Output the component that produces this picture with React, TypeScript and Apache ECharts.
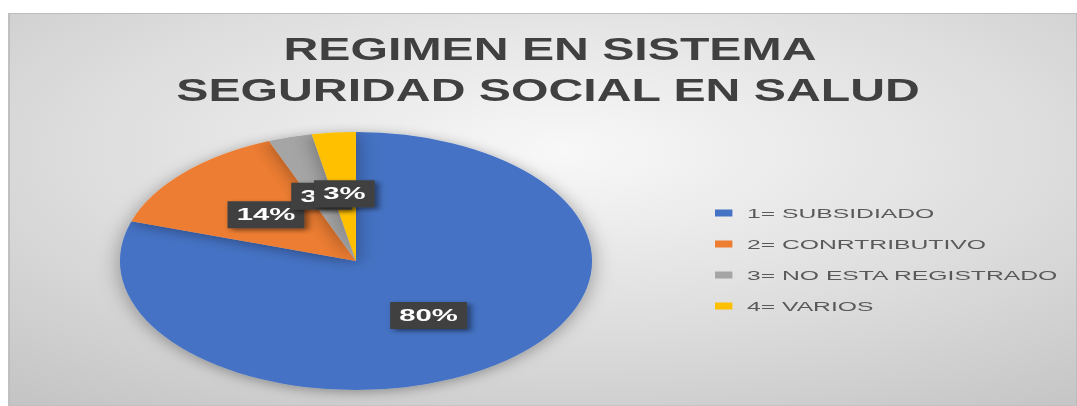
import React, { useEffect, useRef } from "react";
import * as echarts from "echarts";

const categories = ["1= SUBSIDIADO", "2= CONRTRIBUTIVO", "3= NO ESTA REGISTRADO", "4= VARIOS"];
const values = [80, 14, 3, 3];
const colors = ["#4472C4", "#ED7D31", "#A5A5A5", "#FFC000"];
const titleLines = ["REGIMEN EN SISTEMA", "SEGURIDAD SOCIAL EN SALUD"];

const SX = 1.83;
const W = 1077;
const H = 406;
const LW = W / SX;
const lx = (x: number) => x / SX;
const FONT = '"Liberation Sans", Arial, sans-serif';

export default function App() {
  const ref = useRef<HTMLDivElement>(null);
  useEffect(() => {
    const chart = echarts.init(ref.current!, null, { renderer: "svg" });
    chart.setOption({
      animation: false,
      color: colors,
      graphic: [
        {
          type: "rect",
          z: -10,
          silent: true,
          shape: { x: lx(9), y: 13.5, width: LW - lx(9), height: H - 13.5 },
          style: {
            fill: new echarts.graphic.RadialGradient(0.52, 0.35, 0.85, [
              { offset: 0, color: "#f8f8f8" },
              { offset: 0.55, color: "#dcdcdc" },
              { offset: 1, color: "#c2c2c2" },
            ]),
            stroke: "#bcbcbc",
            lineWidth: 1,
          },
        },
        {
          type: "text",
          x: lx(550),
          y: 49.5,
          scaleX: 0.85,
          silent: true,
          style: {
            text: titleLines[0],
            fill: "#404040",
            font: `bold 31px ${FONT}`,
            textAlign: "center",
            textVerticalAlign: "middle",
          },
        },
        {
          type: "text",
          x: lx(548),
          y: 90,
          scaleX: 0.85,
          silent: true,
          style: {
            text: titleLines[1],
            fill: "#404040",
            font: `bold 31px ${FONT}`,
            textAlign: "center",
            textVerticalAlign: "middle",
          },
        },
      ],
      legend: {
        orient: "vertical",
        left: lx(715),
        top: 206,
        padding: 0,
        itemWidth: 9.5,
        itemHeight: 7,
        itemGap: 17,
        icon: "rect",
        selectedMode: false,
        data: categories,
        textStyle: {
          color: "#595959",
          fontSize: 13.5,
          lineHeight: 14,
          fontFamily: FONT,
          padding: [0, 0, 0, 3],
        },
      },
      series: [
        {
          type: "pie",
          center: [lx(356), 261],
          radius: 129,
          startAngle: 90,
          clockwise: true,
          silent: true,
          avoidLabelOverlap: false,
          labelLayout: { hideOverlap: false },
          percentPrecision: 0,
          data: categories.map((name, i) => ({ name, value: values[i] })),
          itemStyle: {
            shadowBlur: 12,
            shadowColor: "rgba(0,0,0,0.35)",
            shadowOffsetY: 2,
          },
          label: {
            show: true,
            position: "inside",
            formatter: "{d}%",
            color: "#ffffff",
            fontWeight: "bold",
            fontSize: 16,
            lineHeight: 17,
            fontFamily: FONT,
            backgroundColor: "#404040",
            padding: [5, 5, 5, 5],
            shadowBlur: 4,
            shadowColor: "rgba(0,0,0,0.5)",
            shadowOffsetX: 2,
            shadowOffsetY: 2,
          },
          labelLine: { show: false },
          emphasis: { disabled: true },
        },
      ],
    });
    return () => chart.dispose();
  }, []);
  return (
    <div style={{ position: "absolute", left: 0, top: 0, width: W, height: H, overflow: "hidden", background: "#fff" }}>
      <div ref={ref} style={{ width: LW, height: H, transform: `scaleX(${SX})`, transformOrigin: "0 0" }} />
    </div>
  );
}
